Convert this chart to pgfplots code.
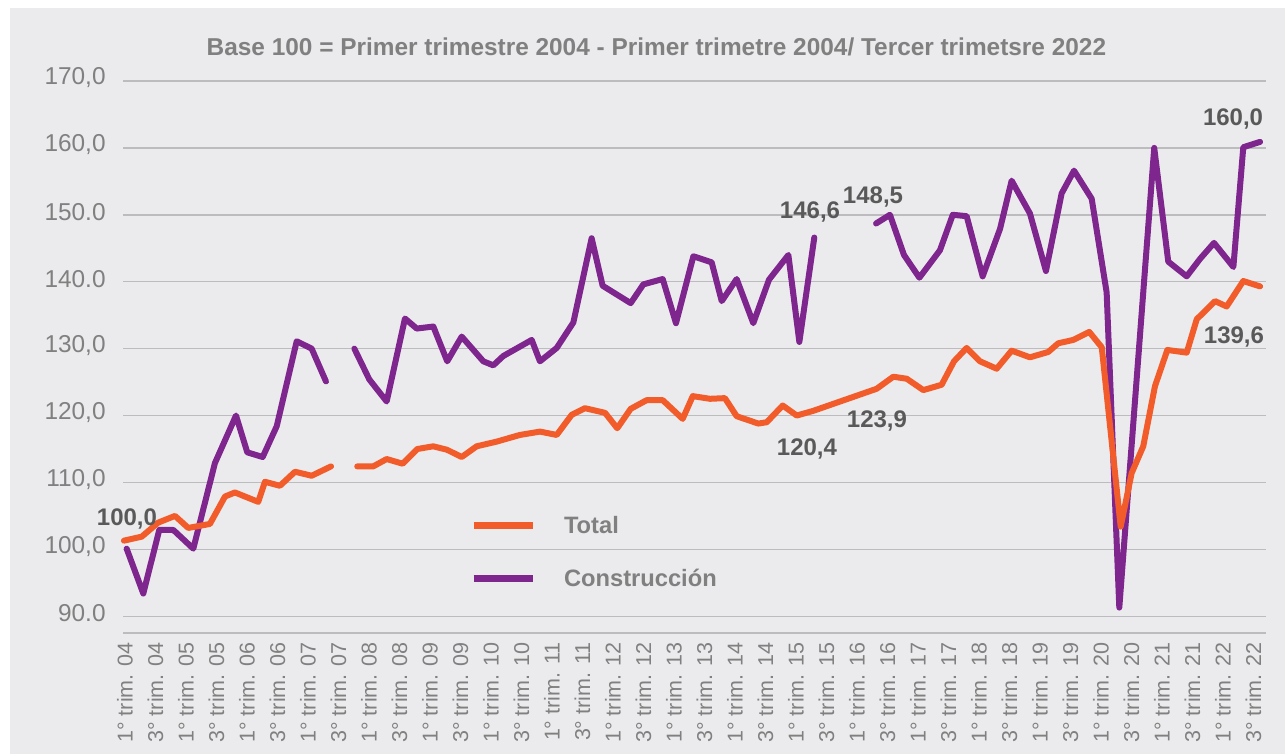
\documentclass[border=0pt]{standalone}
\usepackage{pgfplots}
\pgfplotsset{compat=1.18}
\usepackage{fontspec}
\setmainfont{Liberation Sans}
\definecolor{bg}{RGB}{235,235,237}
\definecolor{gridc}{RGB}{188,188,190}
\definecolor{txt}{RGB}{128,128,128}
\definecolor{lbl}{RGB}{89,89,89}
\definecolor{tot}{RGB}{242,92,42}
\definecolor{cons}{RGB}{126,38,142}
\begin{document}
\begin{tikzpicture}
\useasboundingbox (0,0) rectangle (642.5pt,377pt);
\fill[bg] (5pt,0) rectangle (642.5pt,373pt);
\node[anchor=base, font=\bfseries\fontsize{12.2pt}{14pt}\selectfont, text=txt, inner sep=0pt] at (328.25pt,349pt) {Base 100 = Primer trimestre 2004 - Primer trimetre 2004/ Tercer trimetsre 2022};
\begin{axis}[
  at={(61.65pt,60.5pt)}, anchor=south west,
  scale only axis, width=571.35pt, height=276pt,
  xmin=-0.11, xmax=74.82, ymin=87.5, ymax=170,
  axis line style={draw=none},
  major tick length=0pt,
  ytick={90,100,...,170},
  yticklabels={90.0,{100,0},{110,0},{120,0},{130,0},140.0,150.0,{160,0},{170,0}},
  ymajorgrids, grid style={gridc, line width=0.75pt},
  extra y ticks={87.5}, extra y tick labels={}, extra y tick style={grid=major},
  xtick={0,2,...,74},
  xticklabels={1° trim. 04,3° trim. 04,1° trim. 05,3° trim. 05,1° trim. 06,3° trim. 06,1° trim. 07,3° trim. 07,1° trim. 08,3° trim. 08,1° trim. 09,3° trim. 09,1° trim. 10,3° trim. 10,1° trim. 11,3° trim. 11,1° trim. 12,3° trim. 12,1° trim. 13,3° trim. 13,1° trim. 14,3° trim. 14,1° trim. 15,3° trim. 15,1° trim. 16,3° trim. 16,1° trim. 17,3° trim. 17,1° trim. 18,3° trim. 18,1° trim. 19,3° trim. 19,1° trim. 20,3° trim. 20,1° trim. 21,3° trim. 21,1° trim. 22,3° trim. 22},
  yticklabel style={font=\fontsize{12.2pt}{14pt}\selectfont, text=txt, inner sep=0pt, anchor=east, xshift=-8.65pt, yshift=1.5pt},
  xticklabel style={font=\fontsize{10.75pt}{12pt}\selectfont, text=txt, inner sep=0pt, yshift=-4.5pt, rotate=90, anchor=east},
  clip=false,
  unbounded coords=jump,
  reverse legend,
  legend cell align=left,
  legend style={at={(0.3034,0.1476)}, anchor=west, draw=none, fill=none, inner sep=0pt, outer sep=0pt, row sep=18pt, column sep=14pt,
    nodes={inner sep=0pt, text height=8.5pt, text depth=0pt, font=\bfseries\fontsize{11.85pt}{14pt}\selectfont, text=txt}},
  legend image code/.code={\draw[#1, line width=3.5pt, line cap=butt] (0pt,0pt) -- (29.5pt,0pt);},
]
\addplot[cons, line width=3pt, line join=round, line cap=round] coordinates {
(0.11,100.1) (1.20,93.4) (2.25,102.9) (3.17,102.9) (4.48,100.1) (5.90,112.9) (7.28,120.0) (8.02,114.5) (9.03,113.8) (9.95,118.4) (11.26,131.1) (12.24,130.0) (13.18,125.1) (14,nan)
(15.04,130.0) (16.02,125.4) (17.16,122.1) (18.36,134.5) (19.13,133.0) (20.22,133.3) (21.13,128.1) (22.08,131.8) (23.50,128.1) (24.15,127.5) (24.81,128.9) (26.67,131.3) (27.21,128.1) (28.31,130.1) (29.40,133.9) (30.60,146.5) (31.32,139.4) (33.16,136.8) (33.99,139.6) (35.26,140.4) (36.13,133.8) (37.27,143.8) (38.47,142.9) (39.13,137.1) (40.11,140.4) (41.20,133.8) (42.23,140.3) (43.50,144.0) (44.22,131.0) (45.20,146.6) (47,nan)
(49.25,148.7) (50.16,150.0) (51.08,144.0) (52.09,140.6) (53.44,144.7) (54.28,150.0) (55.19,149.8) (56.24,140.8) (57.38,147.9) (58.14,155.1) (59.34,150.2) (60.39,141.6) (61.42,153.2) (62.23,156.6) (63.39,152.4) (64.37,138.4) (65.20,91.3) (67.49,160.0) (68.41,143.0) (69.62,140.8) (70.49,143.4) (71.41,145.8) (72.68,142.2) (73.33,160.1) (74.43,160.9)
};
\addlegendentry{Construcción}
\addplot[tot, line width=3pt, line join=round, line cap=round] coordinates {
(-0.07,101.3) (1.10,101.9) (2.18,104.0) (3.28,105.0) (4.15,103.2) (5.57,103.8) (6.56,107.9) (7.21,108.5) (8.74,107.1) (9.18,110.1) (10.16,109.5) (11.15,111.6) (12.24,111.0) (13.51,112.4) (14.3,nan)
(15.23,112.4) (16.28,112.4) (17.16,113.5) (18.21,112.8) (19.17,115.0) (20.22,115.4) (21.10,114.9) (22.08,113.8) (23.06,115.4) (24.37,116.1) (25.90,117.1) (27.21,117.6) (28.31,117.1) (29.29,120.1) (30.16,121.1) (31.48,120.4) (32.28,118.1) (33.16,121.0) (34.21,122.3) (35.26,122.3) (36.57,119.5) (37.23,122.9) (38.36,122.5) (39.34,122.6) (40.11,119.9) (41.53,118.8) (42.08,119.0) (43.13,121.5) (44.05,120.0) (45.13,120.7) (49.29,124.0) (50.38,125.8) (51.26,125.5) (52.35,123.8) (53.55,124.6) (54.36,128.1) (55.19,130.1) (56.07,128.1) (57.16,127.0) (58.14,129.7) (59.34,128.7) (60.54,129.5) (61.20,130.8) (62.18,131.3) (63.23,132.5) (64.05,130.2) (65.29,103.4) (66.01,111.4) (66.77,115.4) (67.54,124.4) (68.35,129.8) (69.62,129.4) (70.28,134.4) (71.48,137.1) (72.24,136.3) (73.33,140.1) (74.43,139.3)
};
\addlegendentry{Total}
\begin{scope}[every node/.style={anchor=base, font=\bfseries\fontsize{12pt}{14pt}\selectfont, text=lbl, inner sep=0pt}]
\node at (axis cs:0.13,103.63) {100,0};
\node at (axis cs:44.92,149.52) {146,6};
\node at (axis cs:49.05,151.76) {148,5};
\node at (axis cs:44.72,114.1) {120,4};
\node at (axis cs:49.31,118.28) {123,9};
\node at (axis cs:72.66,163.42) {160,0};
\node at (axis cs:72.72,130.84) {139,6};
\end{scope}
\end{axis}
\end{tikzpicture}
\end{document}
